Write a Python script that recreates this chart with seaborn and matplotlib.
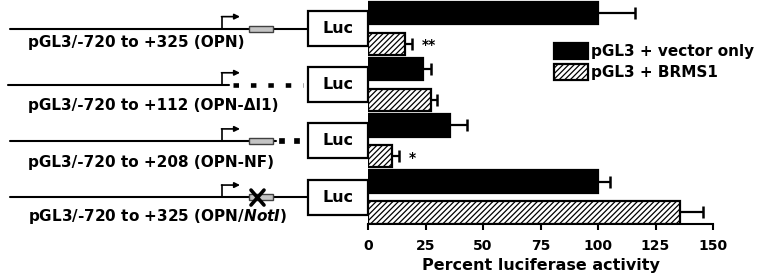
import matplotlib
matplotlib.use("Agg")
import matplotlib.pyplot as plt
import seaborn as sns
import pandas as pd
import numpy as np
from matplotlib.patches import Rectangle

# ---- data ----
constructs = ["pGL3/-720 to +325 (OPN)",
              "pGL3/-720 to +112 (OPN-ΔI1)",
              "pGL3/-720 to +208 (OPN-NF)",
              "pGL3/-720 to +325 (OPN/NotI)"]
display_labels = ["pGL3/-720 to +325 (OPN)",
                  "pGL3/-720 to +112 (OPN-ΔI1)",
                  "pGL3/-720 to +208 (OPN-NF)",
                  "pGL3/-720 to +325 (OPN/$\\mathit{NotI}$)"]
construct_kind = ["full", "deletion", "nf", "noti"]
conditions = ["pGL3 + vector only", "pGL3 + BRMS1"]
vector_only = [100, 24, 35.5, 100]
vector_err = [16, 3.5, 7.5, 5]
brms1 = [16, 27.5, 10.5, 135.5]
brms1_err = [3, 2.5, 3, 10]
brms1_sig = ["**", "", "*", ""]
xticks = [0, 25, 50, 75, 100, 125, 150]
xlabel = "Percent luciferase activity"

# ---- style ----
sns.set_theme(style="white")
plt.rcParams["font.family"] = ["DejaVu Sans"]
plt.rcParams["font.weight"] = "bold"
plt.rcParams["text.color"] = "black"
plt.rcParams["axes.labelcolor"] = "black"
plt.rcParams["xtick.color"] = "black"
plt.rcParams["mathtext.fontset"] = "custom"
plt.rcParams["mathtext.it"] = "DejaVu Sans:bold:italic"
plt.rcParams["mathtext.rm"] = "DejaVu Sans:bold"
plt.rcParams["hatch.linewidth"] = 0.9
plt.rcParams["hatch.color"] = "black"

W, H = 762, 276
fig = plt.figure(figsize=(W / 100, H / 100), dpi=100)
ax = fig.add_axes([368 / W, 1 - 224 / H, 345 / W, 224 / H])

df = pd.DataFrame({
    "construct": constructs * 2,
    "condition": [conditions[0]] * len(constructs) + [conditions[1]] * len(constructs),
    "value": vector_only + brms1,
})
sns.barplot(data=df, x="value", y="construct", hue="condition", orient="h",
            order=constructs, hue_order=conditions,
            palette=["black", "white"], saturation=1, width=1.1, gap=0.28,
            edgecolor="black", linewidth=1.6, errorbar=None, legend=False, ax=ax)

for p in ax.containers[1]:
    p.set_hatch("//////")

# error bars (upper only) and significance marks
for cont, vals, errs, sigs in zip(ax.containers, [vector_only, brms1],
                                  [vector_err, brms1_err], [[""] * 4, brms1_sig]):
    ys = [p.get_y() + p.get_height() / 2 for p in cont]
    ends = np.add(vals, errs)
    ax.hlines(ys, vals, ends, color="black", lw=1.6, zorder=3)
    ax.plot(ends, ys, ls="none", marker="|", ms=9, mew=1.8, color="black", zorder=3,
            clip_on=False)
    for e, y, s in zip(ends, ys, sigs):
        if s:
            ax.annotate(s, xy=(e, y), xytext=(7, -1), textcoords="offset points",
                        ha="left", va="center", fontsize=10, fontweight="bold")

ax.set_xlim(0, 150)
ax.set_ylim(3.48, -0.51)
ax.set_xticks(xticks)
ax.set_xticklabels([str(t) for t in xticks])
ax.set_yticks([])
ax.set_ylabel("")
ax.set_xlabel(xlabel, fontsize=11.5, fontweight="bold", labelpad=4)
ax.tick_params(axis="x", bottom=True, direction="out", length=4.5, width=1.5,
               labelsize=10, pad=6, color="black", labelcolor="black")
for s in ["left", "top", "right"]:
    ax.spines[s].set_visible(False)
ax.spines["bottom"].set_linewidth(1.5)
ax.spines["bottom"].set_color("black")
ax.patch.set_alpha(0)

ax.legend([ax.containers[0][0], ax.containers[1][0]], conditions,
          loc="upper left", bbox_to_anchor=(554 / W, 1 - 43 / H),
          bbox_transform=fig.transFigure, frameon=False, handlelength=2.2,
          handleheight=1.25, handletextpad=0.25, labelspacing=0.3,
          borderpad=0, borderaxespad=0, fontsize=11)

# ---- construct diagrams (pixel overlay, rows aligned to bar categories) ----
dax = fig.add_axes([0, 0, 1, 1], zorder=-1)
dax.set_xlim(0, W)
dax.set_ylim(H, 0)
dax.axis("off")

label_offsets = [14, 21, 22, 19]
for i, (kind, lab) in enumerate(zip(construct_kind, display_labels)):
    yc = H - ax.transData.transform((0, i))[1]
    lw = 1.5
    if kind == "full" or kind == "noti":
        dax.plot([10, 308], [yc, yc], color="black", lw=lw)
    elif kind == "deletion":
        dax.plot([8, 229], [yc, yc], color="black", lw=lw)
        dax.plot([233, 303], [yc, yc], color="black", lw=3.3,
                 ls=(0, (1.2, 2.6)), solid_capstyle="butt", dash_capstyle="butt")
    elif kind == "nf":
        dax.plot([10, 276], [yc, yc], color="black", lw=lw)
        for xs in (279, 294):
            dax.add_patch(Rectangle((xs, yc - 2.5), 5, 5, fc="black", ec="black", lw=0.5))
    # promoter arrow
    dax.plot([222, 222], [yc, yc - 12], color="black", lw=1.2)
    dax.annotate("", xy=(240, yc - 12), xytext=(221.5, yc - 12),
                 arrowprops=dict(arrowstyle="-|>", color="black", lw=1.2,
                                 mutation_scale=8, shrinkA=0, shrinkB=0))
    if kind != "deletion":
        dax.add_patch(Rectangle((249, yc - 3), 24, 6, fc="#c4c4c4", ec="#404040",
                                lw=1, zorder=3))
    if kind == "noti":
        dax.plot([251, 264], [yc - 7, yc + 8], color="black", lw=2.6, zorder=4)
        dax.plot([264, 251], [yc - 7, yc + 8], color="black", lw=2.6, zorder=4)
    # Luc box
    dax.add_patch(Rectangle((308, yc - 17.5), 60, 35, fc="white", ec="black",
                            lw=1.6, zorder=2))
    dax.text(338, yc, "Luc", ha="center", va="center", fontsize=11.5,
             fontweight="bold", zorder=5)
    dax.text(28, yc + label_offsets[i], lab, ha="left", va="center",
             fontsize=11, fontweight="bold")

fig.savefig("out.png", dpi=100)
